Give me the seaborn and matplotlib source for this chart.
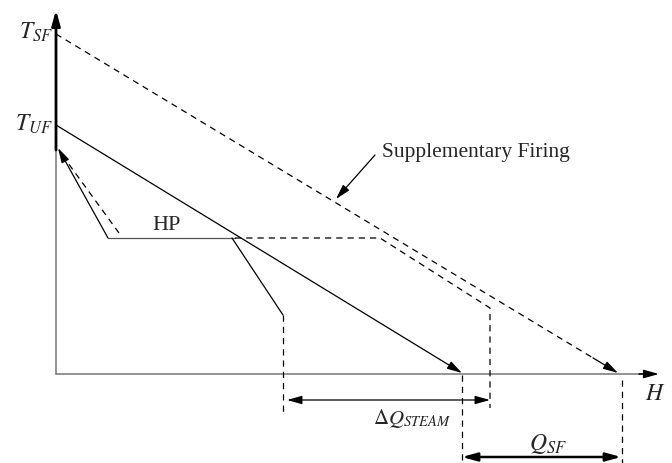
import numpy as np
import pandas as pd
import seaborn as sns
import matplotlib.pyplot as plt

# Schematic T-H diagram (enthalpy H on x, temperature T on y), arbitrary units
T_SF = 340
T_UF = 249
H_MAX = 603
T_MAX = 364

# hot gas lines (start on T axis, end on H axis)
sf_H = [0, 562]
sf_T = [T_SF, 1]
uf_H = [0, 406]
uf_T = [T_UF, 1]

# HP steam profile (solid, unfired case)
hp_H = [2, 52, 179]
hp_T = [226, 136, 136]
hp_sh_H = [176, 227]
hp_sh_T = [136, 59]
hp_drop_H = [227, 227]
hp_drop_T = [59, -39]

# HP steam profile (dashed, fired case)
hpf_left_H = [63, 4]
hpf_left_T = [141, 222]
hpf_H = [179, 324, 434, 434]
hpf_T = [136, 136, 66, -34]

# projection lines for the heat loads
proj_uf_H = [406, 406]
proj_uf_T = [-1, -89]
proj_sf_H = [566, 566]
proj_sf_T = [-6, -89]

# double arrows
dq_steam = (231, 434, -26)
q_sf = (406, 565, -83)

sns.set_style("white")
plt.rcParams["font.family"] = ["Liberation Serif", "DejaVu Serif"]
plt.rcParams["mathtext.fontset"] = "stix"

fig = plt.figure(figsize=(6.72, 4.63), dpi=100)
ax = fig.add_axes([0, 0, 1, 1])
ax.set_xlim(-56, 616)
ax.set_ylim(-89, 374)
ax.axis("off")

dash = (0, (5, 4))
thin = 0.9


def seg(H, T, ls="-", color="black", lw=thin):
    df = pd.DataFrame({"H": H, "T": T})
    sns.lineplot(data=df, x="H", y="T", sort=False, estimator=None,
                 color=color, lw=lw, linestyle=ls, ax=ax)


def head(x0, y0, x1, y1, lw=thin):
    ax.annotate("", xy=(x1, y1), xytext=(x0, y0),
                arrowprops=dict(arrowstyle="-|>,head_length=0.9,head_width=0.25",
                                color="black", lw=lw, shrinkA=0, shrinkB=0))


# axes
seg([0, 0], [0, 226], color="#777777", lw=1.1)
seg([0, H_MAX - 8], [0, 0], color="#777777", lw=1.1)
head(H_MAX - 20, 0, H_MAX, 0, lw=1.1)
ax.annotate("", xy=(0, T_MAX), xytext=(0, 224),
            arrowprops=dict(arrowstyle="-|>,head_length=0.9,head_width=0.25",
                            color="black", lw=2.0, shrinkA=0, shrinkB=0))

# unfired gas line
head(uf_H[0], uf_T[0], uf_H[1], uf_T[1])

# supplementary firing gas line (dashed with head)
h_cut = sf_H[1] - 25
t_cut = sf_T[0] + (sf_T[1] - sf_T[0]) * h_cut / sf_H[1]
seg([sf_H[0], h_cut], [sf_T[0], t_cut], ls=dash)
head(h_cut, t_cut, sf_H[1], sf_T[1])

# HP profiles
seg(hp_H[1:], hp_T[1:], color="#555555")
head(hp_H[1], hp_T[1], hp_H[0], hp_T[0])
seg(hp_sh_H, hp_sh_T)
seg(hp_drop_H, hp_drop_T, ls=dash)
seg(hpf_left_H, hpf_left_T, ls=dash)
seg(hpf_H, hpf_T, ls=dash)
seg(proj_uf_H, proj_uf_T, ls=dash)
seg(proj_sf_H, proj_sf_T, ls=dash)

# heat load arrows
ax.annotate("", xy=(dq_steam[0], dq_steam[2]), xytext=(dq_steam[1], dq_steam[2]),
            arrowprops=dict(arrowstyle="<|-|>,head_length=0.9,head_width=0.25",
                            color="black", lw=thin, shrinkA=0, shrinkB=0))
ax.annotate("", xy=(q_sf[0], q_sf[2]), xytext=(q_sf[1], q_sf[2]),
            arrowprops=dict(arrowstyle="<|-|>,head_length=0.9,head_width=0.25",
                            color="black", lw=1.8, shrinkA=0, shrinkB=0))

# supplementary firing pointer
head(319, 219, 280, 175)

# text
ax.text(-3, T_SF + 2, r"$T_{SF}$", ha="right", va="center", fontsize=17)
ax.text(-3, T_UF + 1, r"$T_{UF}$", ha="right", va="center", fontsize=17)
ax.text(H_MAX - 4, -20, r"$H$", ha="center", va="center", fontsize=17)
ax.text(111, 149, "HP", ha="center", va="center", fontsize=16)
ax.text(326, 222, "Supplementary Firing", ha="left", va="center", fontsize=15.5)
ax.text(356, -44, r"$\Delta Q_{STEAM}$", ha="center", va="center", fontsize=15)
ax.text(492, -70, r"$Q_{SF}$", ha="center", va="center", fontsize=17)

fig.savefig("out.png", dpi=100)
